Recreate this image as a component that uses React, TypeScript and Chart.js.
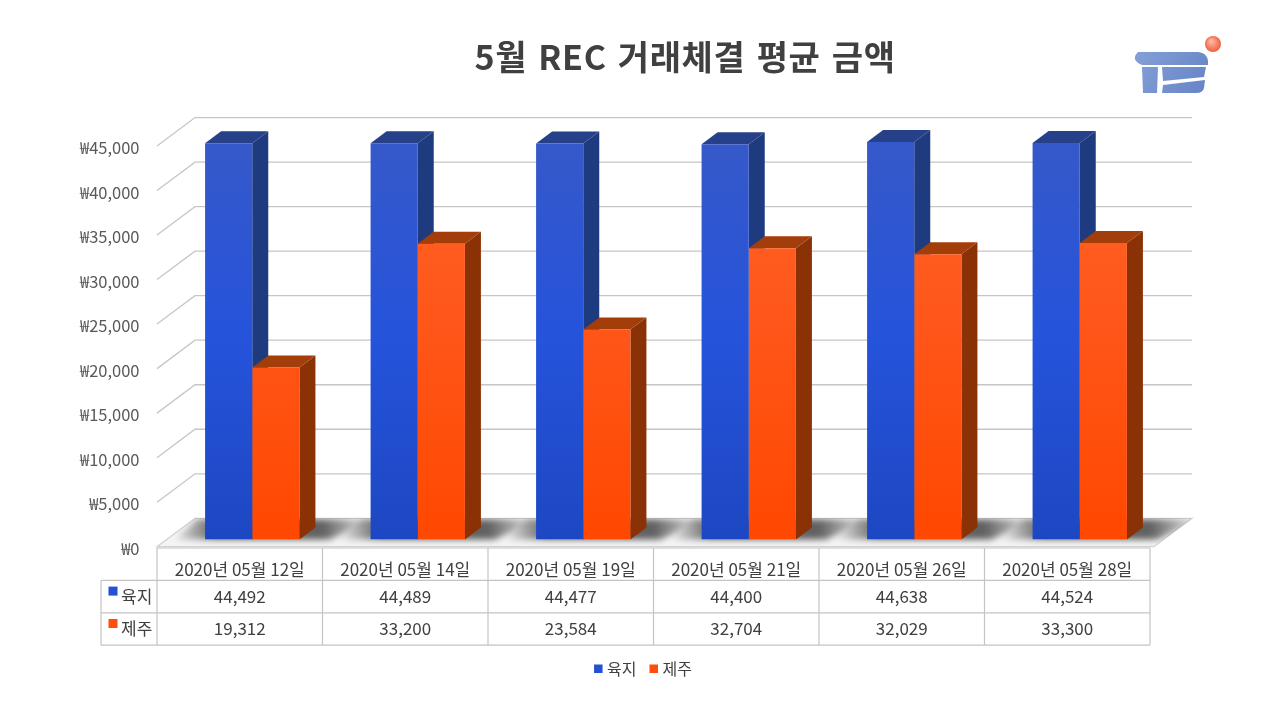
import React, { useEffect, useRef } from 'react';
import { Chart, registerables } from 'chart.js';

Chart.register(...registerables);

// ---- data ----
const chartTitle = '5월 REC 거래체결 평균 금액';
const categories = [
  '2020년 05월 12일',
  '2020년 05월 14일',
  '2020년 05월 19일',
  '2020년 05월 21일',
  '2020년 05월 26일',
  '2020년 05월 28일',
];
const seriesNames = ['육지', '제주'];
const mainlandValues = [44492, 44489, 44477, 44400, 44638, 44524];
const jejuValues = [19312, 33200, 23584, 32704, 32029, 33300];
const yMin = 0;
const yMax = 45000;
const yStep = 5000;

// ---- styles ----
const FONT = "'Noto Sans CJK KR', 'Noto Sans', sans-serif";
const TEXT = '#404040';
const GRID = '#c6c6c6';
const BAR_DX = 16;
const BAR_DY = -12;
const BACK_DX = 25.5;
const BACK_DY = -21.2;
const FRONT_DX = -12.5;
const FRONT_DY = 7.2;
const BACK_RIGHT = 29.5;
const legendColors = ['#2450d2', '#ff4d0a'];
const sideColors = ['#1f3b80', '#8a3205'];
const topColors = ['#26418a', '#a33d0a'];

const fmt = (v: number) => v.toLocaleString('en-US');

function frontGradient(kind: number) {
  return (c: any) => {
    const chart = c.chart;
    const a = chart.chartArea;
    if (!a) return legendColors[kind];
    const g = chart.ctx.createLinearGradient(0, a.top, 0, a.bottom);
    if (kind === 0) {
      g.addColorStop(0, '#3659c9');
      g.addColorStop(0.5, '#2553db');
      g.addColorStop(1, '#1d47c2');
    } else {
      g.addColorStop(0, '#ff6428');
      g.addColorStop(0.5, '#ff5518');
      g.addColorStop(1, '#ff4800');
    }
    return g;
  };
}

function barBox(bar: any) {
  const p = bar.getProps(['x', 'y', 'base', 'width'], true);
  return { L: p.x - p.width / 2, R: p.x + p.width / 2, T: p.y, B: p.base };
}

function poly(ctx: CanvasRenderingContext2D, pts: number[][]) {
  ctx.beginPath();
  ctx.moveTo(pts[0][0], pts[0][1]);
  for (let i = 1; i < pts.length; i++) ctx.lineTo(pts[i][0], pts[i][1]);
  ctx.closePath();
}

const threeDPlugin = {
  id: 'threeD',
  beforeDatasetsDraw(chart: any) {
    const { ctx, chartArea: a, scales } = chart;
    const y = scales.y;
    const y0 = y.getPixelForValue(0);
    ctx.save();
    // walls grid
    ctx.strokeStyle = GRID;
    ctx.lineWidth = 1.3;
    for (const t of y.ticks) {
      if (t.value === 0) continue;
      const py = y.getPixelForValue(t.value);
      ctx.beginPath();
      ctx.moveTo(a.left + FRONT_DX, py + FRONT_DY);
      ctx.lineTo(a.left + BACK_DX, py + BACK_DY);
      ctx.lineTo(a.right + BACK_RIGHT, py + BACK_DY);
      ctx.stroke();
    }
    // floor
    const floor = [
      [a.left + BACK_DX, y0 + BACK_DY],
      [a.right + BACK_RIGHT, y0 + BACK_DY],
      [a.right + BACK_RIGHT - (BACK_DX - FRONT_DX), y0 + FRONT_DY],
      [a.left + FRONT_DX, y0 + FRONT_DY],
    ];
    poly(ctx, floor);
    ctx.fillStyle = '#f4f4f4';
    ctx.fill();
    ctx.strokeStyle = '#d2d2d2';
    ctx.lineWidth = 1.2;
    ctx.stroke();
    // shadows
    const m0 = chart.getDatasetMeta(0);
    const m1 = chart.getDatasetMeta(1);
    ctx.save();
    poly(ctx, floor);
    ctx.clip();
    ctx.filter = 'blur(3px)';
    for (let i = 0; i < categories.length; i++) {
      const b0 = barBox(m0.data[i]);
      const b1 = barBox(m1.data[i]);
      const gl = b0.L;
      const gr = b1.R;
      const sx0 = gl - 34;
      const sx1 = gr + BAR_DX + 58;
      const g = ctx.createLinearGradient(sx0, 0, sx1, 0);
      g.addColorStop(0, 'rgba(60,60,60,0)');
      g.addColorStop(0.22, 'rgba(60,60,60,0.8)');
      g.addColorStop(0.75, 'rgba(60,60,60,0.8)');
      g.addColorStop(1, 'rgba(60,60,60,0)');
      ctx.fillStyle = g;
      poly(ctx, [
        [gl - 30, b0.B],
        [gr + 30, b0.B],
        [sx1, y0 + BACK_DY + 1],
        [gl - 8, y0 + BACK_DY + 1],
      ]);
      ctx.fill();
    }
    ctx.restore();
    // bar sides and tops
    for (let i = 0; i < categories.length; i++) {
      [m0, m1].forEach((m, k) => {
        const b = barBox(m.data[i]);
        ctx.fillStyle = sideColors[k];
        poly(ctx, [
          [b.R, b.B],
          [b.R + BAR_DX, b.B + BAR_DY],
          [b.R + BAR_DX, b.T + BAR_DY],
          [b.R, b.T],
        ]);
        ctx.fill();
        ctx.fillStyle = topColors[k];
        poly(ctx, [
          [b.L, b.T],
          [b.L + BAR_DX, b.T + BAR_DY],
          [b.R + BAR_DX, b.T + BAR_DY],
          [b.R, b.T],
        ]);
        ctx.fill();
      });
    }
    ctx.restore();
  },
  afterDraw(chart: any) {
    const { ctx, chartArea: a, scales } = chart;
    const x = scales.x;
    const y0 = scales.y.getPixelForValue(0);
    const catW = (a.right - a.left) / categories.length;
    const tLeft = a.left + FRONT_DX;
    const tTop = y0 + FRONT_DY + 1.3;
    const rowH = 32.4;
    const keyLeft = tLeft - 56;
    ctx.save();
    // table grid
    ctx.strokeStyle = '#c4c4c4';
    ctx.lineWidth = 1.2;
    const tRight = tLeft + catW * categories.length;
    const tBottom = tTop + rowH * 3;
    ctx.beginPath();
    ctx.moveTo(tLeft, tTop);
    ctx.lineTo(tRight, tTop);
    for (let r = 1; r <= 3; r++) {
      ctx.moveTo(keyLeft, tTop + rowH * r);
      ctx.lineTo(tRight, tTop + rowH * r);
    }
    for (let c = 0; c <= categories.length; c++) {
      const cx = tLeft + catW * c;
      ctx.moveTo(cx, tTop);
      ctx.lineTo(cx, tBottom);
    }
    ctx.moveTo(keyLeft, tTop + rowH);
    ctx.lineTo(keyLeft, tBottom);
    ctx.stroke();
    // table text
    ctx.fillStyle = TEXT;
    ctx.font = `17px ${FONT}`;
    ctx.textAlign = 'center';
    ctx.textBaseline = 'middle';
    const series = [mainlandValues, jejuValues];
    categories.forEach((cat, i) => {
      const cx = x.getPixelForValue(i) + FRONT_DX;
      ctx.fillText(cat, cx, tTop + rowH / 2 + 5);
      series.forEach((vals, s) => {
        ctx.fillText(fmt(vals[i]), cx, tTop + rowH * (s + 1.5));
      });
    });
    // key column
    ctx.textAlign = 'left';
    seriesNames.forEach((name, s) => {
      const cy = tTop + rowH * (s + 1.5);
      ctx.fillStyle = legendColors[s];
      ctx.fillRect(keyLeft + 7.5, cy - 10, 9, 9);
      ctx.fillStyle = TEXT;
      ctx.fillText(name, keyLeft + 20, cy);
    });
    // legend
    ctx.font = `16px ${FONT}`;
    const ly = 669;
    const items = seriesNames.map((n) => ({ n, w: ctx.measureText(n).width }));
    const gap = 13;
    const total = items.reduce((s, it) => s + 13 + it.w, 0) + gap * (items.length - 1);
    let lx = 640 + 3 - total / 2;
    items.forEach((it, s) => {
      ctx.fillStyle = legendColors[s];
      ctx.fillRect(lx, ly - 4.5, 8.5, 8.5);
      ctx.fillStyle = TEXT;
      ctx.fillText(it.n, lx + 13, ly);
      lx += 13 + it.w + gap;
    });
    // title
    ctx.font = `bold 34px ${FONT}`;
    ctx.textAlign = 'center';
    ctx.fillStyle = TEXT;
    (ctx as any).letterSpacing = '0.6px';
    (ctx as any).wordSpacing = '3px';
    ctx.fillText(chartTitle, 685, 57);
    (ctx as any).letterSpacing = '0px';
    (ctx as any).wordSpacing = '0px';
    // logo
    drawLogo(ctx);
    ctx.restore();
  },
};

function drawLogo(ctx: CanvasRenderingContext2D) {
  ctx.save();
  const g = ctx.createLinearGradient(1130, 50, 1208, 95);
  g.addColorStop(0, '#86a2d8');
  g.addColorStop(1, '#6583c6');
  ctx.fillStyle = g;
  ctx.beginPath();
  ctx.moveTo(1138, 52);
  ctx.lineTo(1198, 52);
  ctx.quadraticCurveTo(1209, 53, 1208, 65);
  ctx.lineTo(1142, 65);
  ctx.quadraticCurveTo(1130, 60, 1138, 52);
  ctx.fill();
  poly(ctx, [
    [1142, 67],
    [1158, 67],
    [1157, 93],
    [1143, 93],
  ]);
  ctx.fill();
  poly(ctx, [
    [1162, 67],
    [1206, 67],
    [1204, 77],
    [1163, 81],
  ]);
  ctx.fill();
  ctx.beginPath();
  ctx.moveTo(1163, 85);
  ctx.lineTo(1205, 80);
  ctx.lineTo(1204, 88);
  ctx.quadraticCurveTo(1203, 93, 1196, 93);
  ctx.lineTo(1162, 93);
  ctx.closePath();
  ctx.fill();
  const rg = ctx.createRadialGradient(1211, 41, 1, 1213, 44, 9);
  rg.addColorStop(0, '#ffb6a0');
  rg.addColorStop(1, '#ee5634');
  ctx.fillStyle = rg;
  ctx.beginPath();
  ctx.arc(1213, 44, 8, 0, Math.PI * 2);
  ctx.fill();
  ctx.restore();
}

export default function App() {
  const ref = useRef<HTMLCanvasElement | null>(null);
  useEffect(() => {
    if (!ref.current) return;
    const chart = new Chart(ref.current, {
      type: 'bar',
      data: {
        labels: categories,
        datasets: [
          {
            label: seriesNames[0],
            data: mainlandValues,
            backgroundColor: frontGradient(0),
            borderWidth: 0,
            barPercentage: 1,
            categoryPercentage: 0.57,
          },
          {
            label: seriesNames[1],
            data: jejuValues,
            backgroundColor: frontGradient(1),
            borderWidth: 0,
            barPercentage: 1,
            categoryPercentage: 0.57,
          },
        ],
      },
      options: {
        responsive: false,
        animation: false,
        layout: { padding: { left: 69.5, right: 117.5, top: 138.8, bottom: 180.5 } },
        plugins: {
          legend: { display: false },
          title: { display: false },
          tooltip: { enabled: false },
        },
        scales: {
          x: { display: false },
          y: {
            min: yMin,
            max: yMax,
            afterFit: (s: any) => {
              s.width = 100;
            },
            grid: { display: false, drawTicks: false },
            border: { display: false },
            ticks: {
              stepSize: yStep,
              padding: 30,
              labelOffset: 9,
              color: '#595959',
              font: { family: FONT, size: 16.5 },
              callback: (v: any) => '₩' + fmt(Number(v)),
            },
          },
        },
      },
      plugins: [threeDPlugin],
    } as any);
    return () => chart.destroy();
  }, []);
  return (
    <div style={{ position: 'absolute', left: 0, top: 0, width: 1280, height: 720, background: '#fff' }}>
      <canvas ref={ref} width={1280} height={720} style={{ display: 'block' }} />
    </div>
  );
}
